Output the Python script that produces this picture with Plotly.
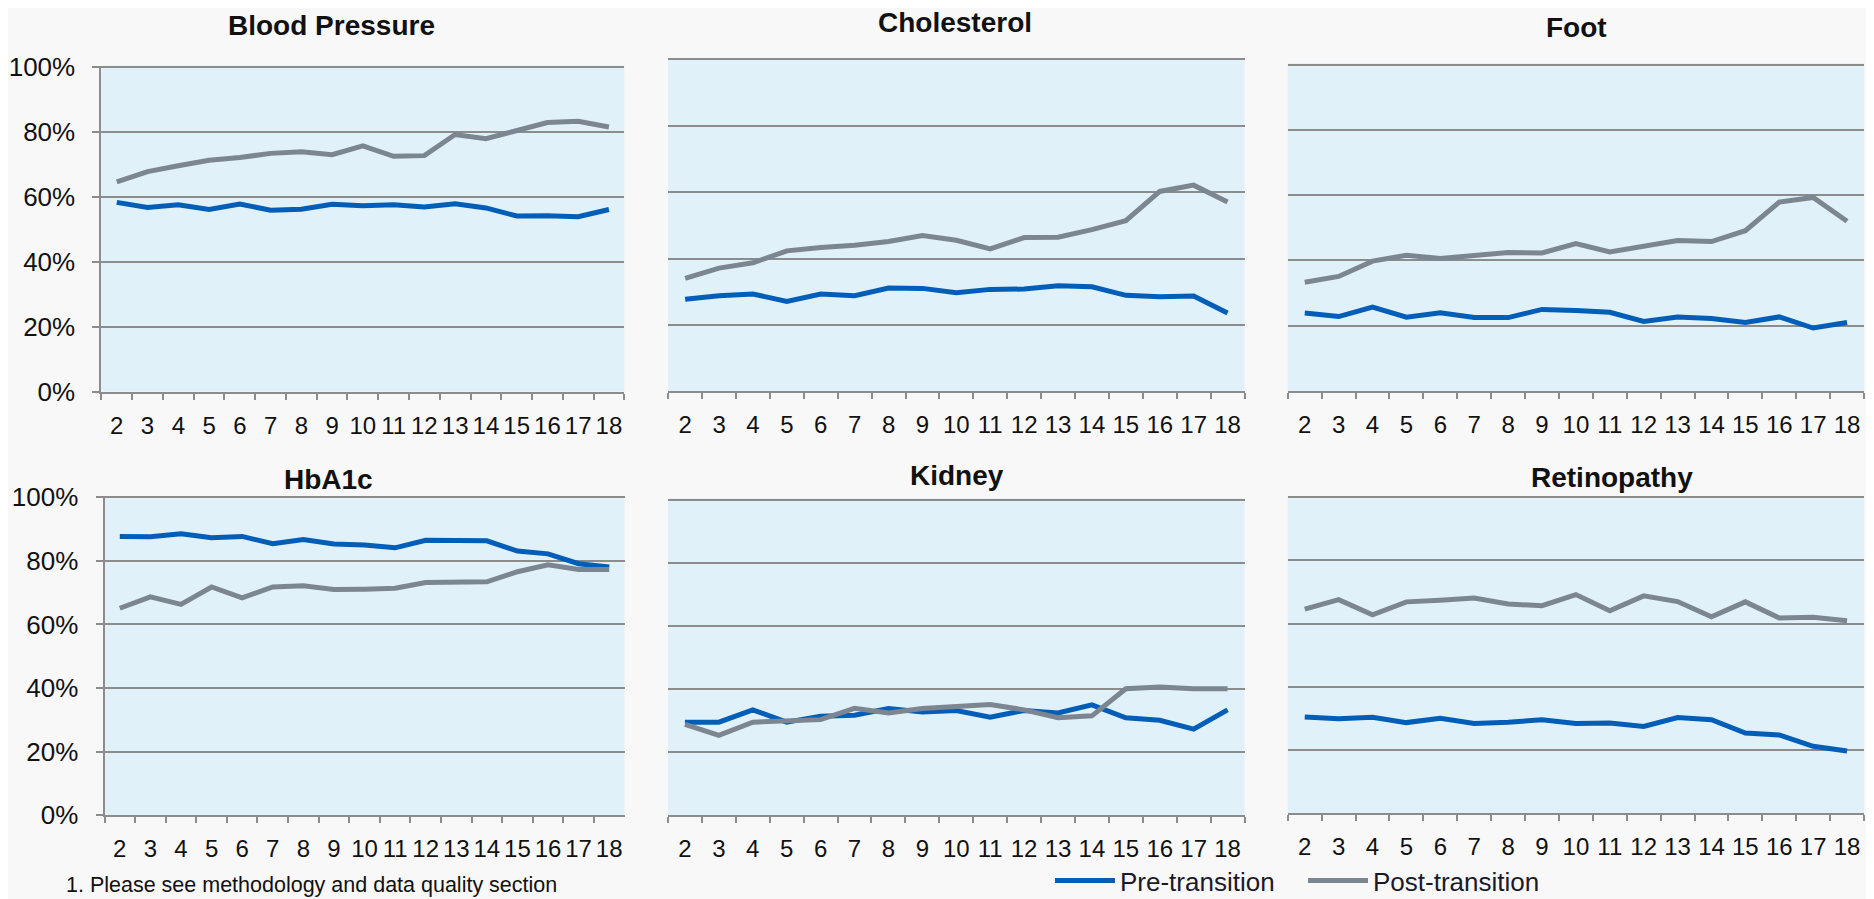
import plotly.graph_objects as go

periods = ["2", "3", "4", "5", "6", "7", "8", "9", "10", "11", "12", "13", "14", "15", "16", "17", "18"]

bp_pre = [58.3, 56.7, 57.6, 56.1, 57.8, 55.9, 56.2, 57.7, 57.3, 57.6, 56.9, 57.9, 56.6, 54.1, 54.2, 53.9, 56.1]
bp_post = [64.6, 67.8, 69.6, 71.3, 72.1, 73.4, 73.9, 73.0, 75.7, 72.5, 72.7, 79.2, 77.9, 80.3, 82.9, 83.3, 81.5]

chol_pre = [27.7, 28.8, 29.3, 27.1, 29.3, 28.8, 31.1, 31.0, 29.7, 30.7, 30.8, 31.8, 31.5, 28.9, 28.5, 28.7, 23.6]
chol_post = [34.0, 37.1, 38.7, 42.3, 43.3, 44.0, 45.1, 46.9, 45.5, 42.9, 46.3, 46.4, 48.7, 51.4, 60.2, 62.1, 57.0]

foot_pre = [23.9, 22.8, 25.7, 22.6, 24.0, 22.5, 22.5, 25.0, 24.7, 24.1, 21.3, 22.7, 22.2, 21.0, 22.7, 19.3, 21.0]
foot_post = [33.3, 35.1, 39.8, 41.6, 40.6, 41.6, 42.4, 42.3, 45.2, 42.6, 44.4, 46.1, 45.8, 49.1, 57.9, 59.3, 52.0]

hba1c_pre = [87.7, 87.6, 88.5, 87.3, 87.7, 85.4, 86.7, 85.3, 85.0, 84.1, 86.5, 86.5, 86.3, 83.1, 82.2, 79.1, 78.1]
hba1c_post = [65.1, 68.7, 66.3, 71.8, 68.4, 71.8, 72.2, 71.0, 71.1, 71.4, 73.2, 73.4, 73.4, 76.6, 78.8, 77.3, 77.3]

kidney_pre = [29.5, 29.5, 33.4, 29.5, 31.4, 31.7, 33.8, 32.7, 33.2, 31.1, 33.2, 32.4, 35.0, 30.9, 30.1, 27.3, 33.4]
kidney_post = [28.8, 25.3, 29.5, 29.8, 30.3, 33.9, 32.4, 33.8, 34.5, 35.1, 33.4, 30.9, 31.5, 40.1, 40.6, 40.1, 40.1]

retino_pre = [30.5, 29.9, 30.4, 28.7, 30.1, 28.4, 28.8, 29.6, 28.4, 28.6, 27.5, 30.3, 29.6, 25.4, 24.8, 21.2, 19.7]
retino_post = [64.6, 67.6, 62.8, 66.9, 67.4, 68.1, 66.2, 65.7, 69.2, 64.1, 68.8, 67.0, 62.2, 66.9, 61.8, 62.0, 60.9]

y_ticks = [0, 20, 40, 60, 80, 100]
y_tick_labels = ["0%", "20%", "40%", "60%", "80%", "100%"]

panel_titles = ["Blood Pressure", "Cholesterol", "Foot", "HbA1c", "Kidney", "Retinopathy"]
pre_series = [bp_pre, chol_pre, foot_pre, hba1c_pre, kidney_pre, retino_pre]
post_series = [bp_post, chol_post, foot_post, hba1c_post, kidney_post, retino_post]

# the page body keeps its default 8px margin: positions below are given in
# window pixels and shifted back by that offset
OFF = 8
W, H = 1874, 899


def px_x(p):
    return (p - OFF) / W


def px_y(p):
    return 1 - (p - OFF) / H


# pixel boxes (in the 1874x899 window) of each plot area: left, right, top, bottom
boxes = [
    (101.4, 624.3, 65.7, 391.7),
    (668.2, 1244.5, 58.0, 391.3),
    (1287.8, 1864.0, 63.3, 391.0),
    (104.5, 624.5, 496.0, 815.3),
    (668.0, 1244.5, 498.3, 815.3),
    (1287.8, 1864.0, 496.0, 813.3),
]
title_pos = [(331, 25), (955, 23), (1576, 28), (328, 479), (957, 476), (1612, 477)]

PRE_COLOR = "#005EB8"
POST_COLOR = "#7C8691"
GRID = "#8C8C8C"
FONT = "Liberation Sans, Arial, sans-serif"

fig = go.Figure()

for i in range(6):
    n = "" if i == 0 else str(i + 1)
    fig.add_trace(go.Scatter(
        x=periods, y=pre_series[i], mode="lines", name="Pre-transition",
        line=dict(color=PRE_COLOR, width=5), xaxis="x" + n, yaxis="y" + n,
        showlegend=(i == 0), legendgroup="pre"
    ))
    fig.add_trace(go.Scatter(
        x=periods, y=post_series[i], mode="lines", name="Post-transition",
        line=dict(color=POST_COLOR, width=5), xaxis="x" + n, yaxis="y" + n,
        showlegend=(i == 0), legendgroup="post"
    ))

    left, right, top, bottom = boxes[i]
    first_col = i % 3 == 0
    fig.update_layout({
        "xaxis" + n: dict(
            domain=[px_x(left), px_x(right)], anchor="y" + n, type="category",
            range=[-0.5, 16.5], tickson="boundaries", ticks="outside",
            ticklen=6, tickwidth=2, tickcolor=GRID, showline=True,
            linecolor=GRID, linewidth=2, showgrid=False, tickangle=0,
            tickfont=dict(size=24, color="#111"), ticklabelstandoff=11,
            automargin=False, fixedrange=True,
        ),
        "yaxis" + n: dict(
            domain=[px_y(bottom), px_y(top)], anchor="x" + n,
            range=[0, 100.4], tickvals=y_ticks, ticktext=y_tick_labels,
            showticklabels=first_col,
            ticks="outside" if first_col else "", ticklen=7, tickwidth=2,
            tickcolor=GRID, showline=first_col, linecolor=GRID, linewidth=2,
            showgrid=True, gridcolor=GRID, gridwidth=2, zeroline=False,
            tickfont=dict(size=26, color="#111"), ticklabelstandoff=12,
            automargin=False, fixedrange=True,
        ),
    })

    tx, ty = title_pos[i]
    fig.add_annotation(
        text="<b>" + panel_titles[i] + "</b>", x=px_x(tx), y=px_y(ty),
        xref="paper", yref="paper", xanchor="center", yanchor="middle",
        showarrow=False, font=dict(size=28, color="#111")
    )

fig.add_annotation(
    text="1. Please see methodology and data quality section",
    x=px_x(64), y=px_y(899), xref="paper", yref="paper",
    xanchor="left", yanchor="bottom", showarrow=False,
    font=dict(size=21.5, color="#111")
)

fig.update_layout(
    width=W, height=H,
    margin=dict(l=0, r=0, t=0, b=0),
    paper_bgcolor="#F8F8F8",
    plot_bgcolor="#E0F1F9",
    font=dict(family=FONT),
    showlegend=True,
    legend=dict(
        orientation="h", x=px_x(1050), y=px_y(904), xanchor="left",
        yanchor="bottom", bgcolor="rgba(0,0,0,0)",
        font=dict(size=26, color="#1a1a2a"), itemwidth=60,
        entrywidth=178, entrywidthmode="pixels", traceorder="normal",
    ),
)

fig.write_html("out.html")
